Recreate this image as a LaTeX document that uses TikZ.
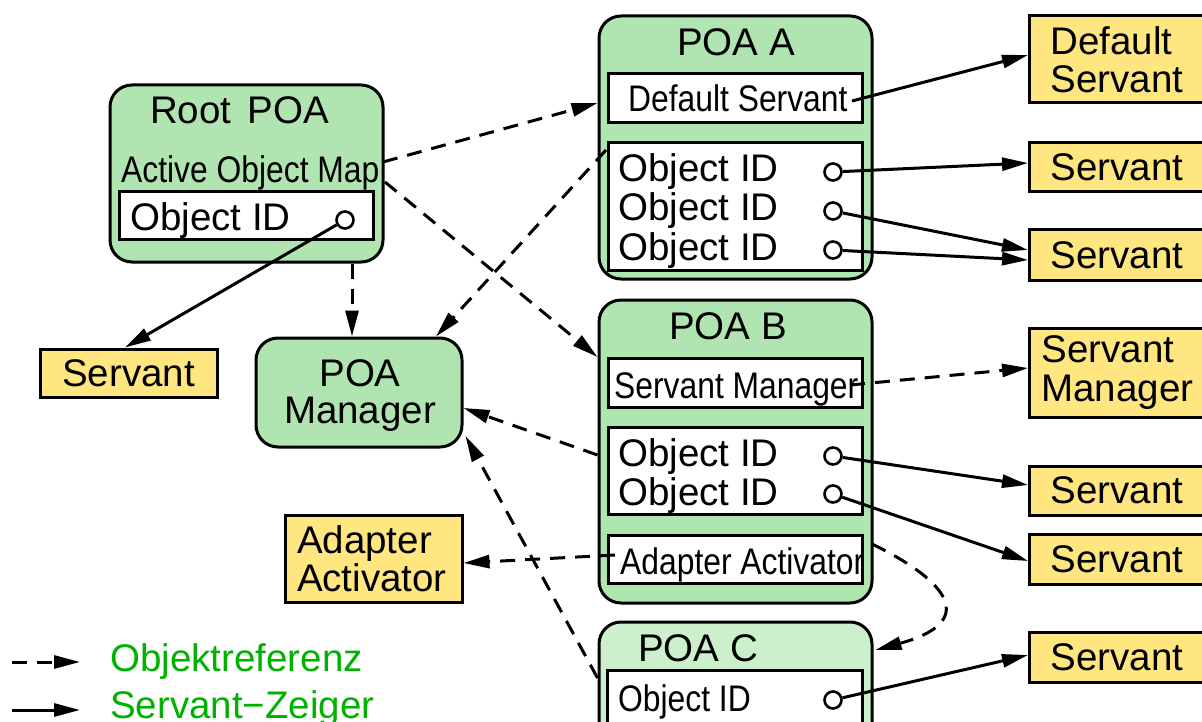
\documentclass[tikz,border=0pt]{standalone}
\usepackage{fontspec}
\setmainfont{Liberation Sans}
\newfontfamily\condfont[FakeStretch=0.86]{Liberation Sans}
\usetikzlibrary{arrows.meta}

\definecolor{poagreen}{RGB}{176,228,176}
\definecolor{poalight}{RGB}{204,240,204}
\definecolor{servyellow}{RGB}{255,230,128}
\definecolor{legendgreen}{RGB}{0,178,0}

\tikzset{
  big/.style={font=\fontsize{38.5}{39}\selectfont},
  cond/.style={font=\condfont\fontsize{37}{38}\selectfont},
  poabox/.style={draw, line width=3pt, rounded corners=22pt, fill=poagreen, inner sep=0pt},
  slot/.style={draw, line width=3pt, fill=white, inner sep=0pt, minimum width=254pt},
  servbox/.style={draw, line width=3pt, fill=servyellow, big},
  rightserv/.style={servbox, anchor=west, align=left, inner xsep=21pt, inner ysep=0pt,
                    text width=145pt},
  hole/.style={circle, draw, line width=2.6pt, fill=white, minimum size=17pt, inner sep=0pt},
  txt/.style={inner sep=0pt, anchor=base west},
  title/.style={inner sep=0pt, anchor=base, big},
  ref/.style={line width=3pt, dash pattern=on 15pt off 10pt,
              -{Triangle[length=26pt,width=13pt]}},
  ptr/.style={line width=3pt, -{Triangle[length=26pt,width=13pt]}},
}

\begin{document}
\begin{tikzpicture}[x=1pt,y=-1pt]
\useasboundingbox (0,0) rectangle (1202,722);
\clip (0,0) rectangle (1202,722);

% ---------- Root POA ----------
\node[poabox, minimum width=273pt, minimum height=177pt] (root) at (246.5,173.5) {};
\node[slot, minimum height=48pt] (rootids) at (246,216) {};
\node[txt, big] (roottitle) at (150,124) {Root\hspace{16pt}POA};
\node[txt, cond] (aom) at (121,183) {Active Object Map};
\node[txt, big] (rootid) at (130,230) {Object ID};
\node[hole] (rooth) at (345,220) {};

% ---------- POA A ----------
\node[poabox, minimum width=273pt, minimum height=263pt] (poaA) at (735.5,147.5) {};
\node[title] (poaAt) at (736,56) {POA A};
\node[slot, minimum height=49pt] (dsA) at (735,98.5) {};
\node[txt, cond] (dsAtext) at (628,112) {Default Servant};
\node[slot, minimum height=127pt] (idsA) at (735,206.5) {};
\node[txt, big] (idA1) at (618,182) {Object ID};
\node[txt, big] (idA2) at (618,221) {Object ID};
\node[txt, big] (idA3) at (618,261) {Object ID};
\node[hole] (hA1) at (833,172) {};
\node[hole] (hA2) at (833,211) {};
\node[hole] (hA3) at (833,250) {};

% ---------- POA B ----------
\node[poabox, minimum width=273pt, minimum height=303pt] (poaB) at (735.5,451.5) {};
\node[title] (poaBt) at (728,339) {POA B};
\node[slot, minimum height=49pt] (smB) at (735,382.5) {};
\node[txt, cond] (smBtext) at (614,398) {Servant Manager};
\node[slot, minimum height=87pt] (idsB) at (735,470.5) {};
\node[txt, big] (idB1) at (618,466) {Object ID};
\node[txt, big] (idB2) at (618,505) {Object ID};
\node[hole] (hB1) at (833,456) {};
\node[hole] (hB2) at (833,494) {};
\node[slot, minimum height=48pt] (aaB) at (735,559) {};
\node[txt, cond] (aaBtext) at (620,574) {Adapter Activator};

% ---------- POA C ----------
\node[poabox, fill=poalight, minimum width=273pt, minimum height=138pt] (poaC) at (735.5,691) {};
\node[title] (poaCt) at (698,661) {POA C};
\node[slot, minimum width=255pt, minimum height=70pt] (idsC) at (734.5,705) {};
\node[txt, cond] (idC) at (618,711) {Object ID};
\node[hole] (hC) at (833,700) {};

% ---------- POA Manager ----------
\node[poabox, minimum width=206pt, minimum height=109pt] (pm) at (359,392.5) {};
\node[inner sep=0pt, align=center, font=\fontsize{38.5}{37}\selectfont] (pmtext) at (360,395.5) {POA\\Manager};

% ---------- servants and activators ----------
\node[servbox, minimum width=177pt, minimum height=48pt, inner sep=0pt] (sl) at (128.5,373) {Servant};
\node[servbox, align=left, inner xsep=12pt, inner ysep=0pt, text width=153pt,
      minimum height=87pt, font=\fontsize{38.5}{38}\selectfont] (aaY) at (373.5,558.5) {Adapter\\Activator};

\node[rightserv, minimum height=87pt, font=\fontsize{38.5}{38}\selectfont] (ds) at (1028,59.5) {Default\\Servant};
\node[rightserv, minimum height=49pt] (s1) at (1028,167.5) {Servant};
\node[rightserv, minimum height=50pt] (s2) at (1028,255) {Servant};
\node[rightserv, minimum height=89pt, inner xsep=12pt, text width=163pt,
      font=\fontsize{38.5}{39}\selectfont] (sm) at (1028,372.5) {Servant\\Manager};
\node[rightserv, minimum height=49pt] (s3) at (1028,490.5) {Servant};
\node[rightserv, minimum height=50pt] (s4) at (1028,559) {Servant};
\node[rightserv, minimum height=50pt] (s5) at (1028,657) {Servant};

% ---------- object references (dashed) ----------
\coordinate (aom1) at (383,162);
\coordinate (aom2) at (385,182);
\coordinate (dsEnd) at (852,101);
\coordinate (smEnd) at (850,385);
\coordinate (aaStart) at (615,555);
\coordinate (aaEnd) at (872,544);
\coordinate (idsAcorner) at (606,150);

\draw[ref] (aom1) -- ([yshift=44.5pt]poaA.west);
\draw[ref] (aom2) -- ([yshift=94.5pt]poaB.west);
\draw[ref] ([xshift=105.5pt]root.south) -- ([xshift=-7pt]pm.north);
\draw[ref] (idsAcorner) -- ([xshift=77pt]pm.north);
\draw[ref] ([yshift=-3.5pt]poaB.west) -- ([yshift=-15.5pt]pm.east);
\draw[ref] ([yshift=13pt]poaC.west) -- ([xshift=2pt,yshift=-43.5pt]pm.east);
\draw[ref] (aaStart) -- ([yshift=-4.5pt]aaY.east);
\draw[ref] (smEnd) -- ([yshift=4.5pt]sm.west);
\draw[ref] (aaEnd) .. controls (950,582) and (978,622) .. ([xshift=2pt,yshift=41pt]poaC.east);

% ---------- servant pointers (solid) ----------
\draw[ptr] (dsEnd) -- ([yshift=4.5pt]ds.west);
\draw[ptr] (hA1) -- ([yshift=4.5pt]s1.west);
\draw[ptr] (hA2) -- ([yshift=5pt]s2.west);
\draw[ptr] (hA3) -- ([yshift=-5pt]s2.west);
\draw[ptr] (hB1) -- ([yshift=5.5pt]s3.west);
\draw[ptr] (hB2) -- ([yshift=-2pt]s4.west);
\draw[ptr] (hC) -- ([yshift=2pt]s5.west);
\draw[ptr] (rooth) -- ([xshift=-3.5pt]sl.north);

% ---------- legend ----------
\coordinate (lgA1) at (12,662);
\coordinate (lgA2) at (80,662);
\coordinate (lgB1) at (12,710);
\coordinate (lgB2) at (80,710);
\draw[ref] (lgA1) -- (lgA2);
\draw[ptr] (lgB1) -- (lgB2);
\node[txt, big, text=legendgreen] (lgref) at (110,671) {Objektreferenz};
\node[txt, big, text=legendgreen] (lgptr) at (110,718) {Servant−Zeiger};
\end{tikzpicture}
\end{document}
